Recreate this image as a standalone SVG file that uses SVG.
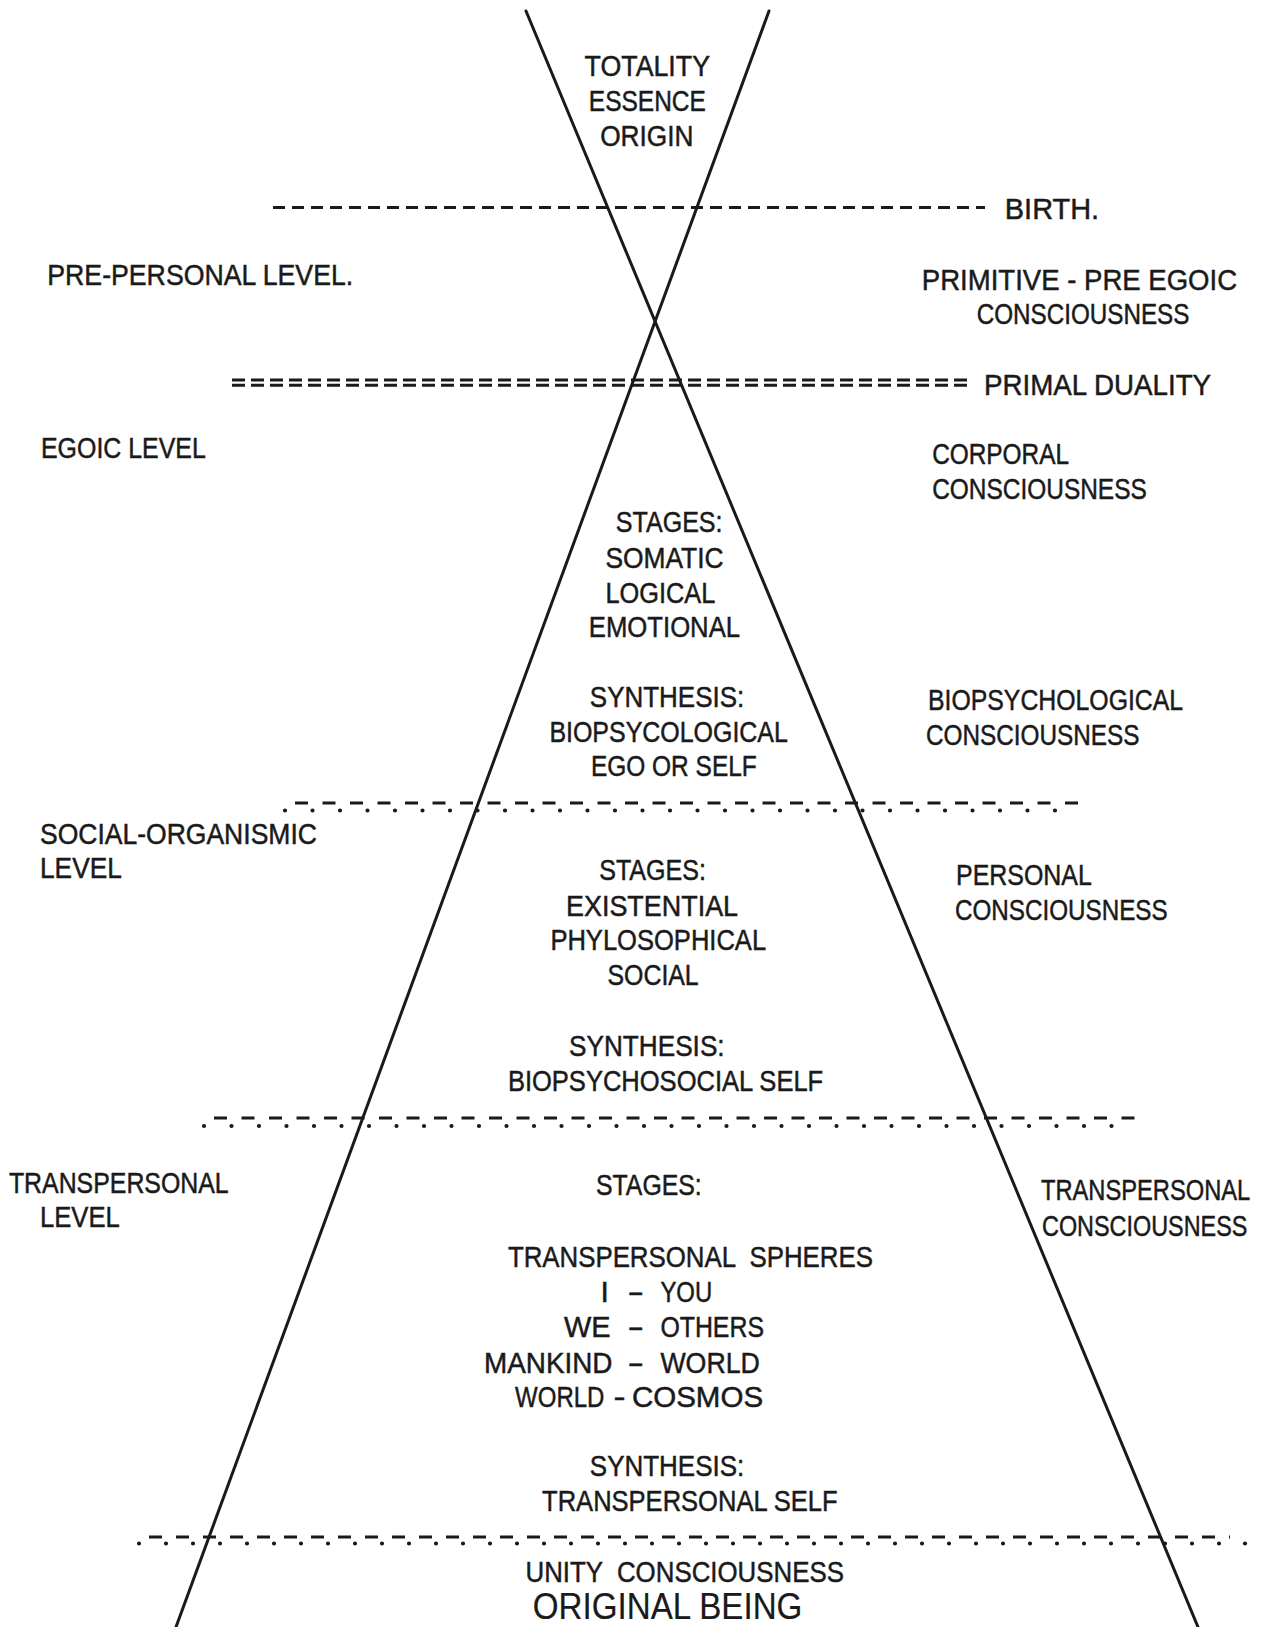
<svg xmlns="http://www.w3.org/2000/svg" width="1275" height="1627" viewBox="0 0 1275 1627">
<style>
text{font-family:"Liberation Sans",Arial,sans-serif;font-size:30px;fill:#1a1a1a;stroke:#1a1a1a;stroke-width:0.5px;}
.pre{white-space:pre;}
.big{font-size:36px;stroke-width:0.2px;}
.ax{stroke:#1a1a1a;stroke-width:3;fill:none;stroke-linecap:round;}
.dash{stroke:#1a1a1a;stroke-width:3;fill:none;}
.dot{stroke:#1a1a1a;stroke-width:4.2;fill:none;stroke-linecap:round;}
</style>
<rect width="1275" height="1627" fill="#ffffff"/>

<g id="connectors">
  <line class="ax" x1="526" y1="11" x2="1198" y2="1627"/>
  <line class="ax" x1="769" y1="11" x2="176" y2="1627"/>
  <!-- birth line -->
  <line class="dash" x1="273" y1="207.5" x2="985" y2="207.5" stroke-dasharray="12 7"/>
  <!-- primal duality (double dashes) -->
  <line class="dash" x1="232" y1="380" x2="967" y2="380" stroke-width="2.6" stroke-dasharray="13 6"/>
  <line class="dash" x1="232" y1="385.2" x2="967" y2="385.2" stroke-width="2.6" stroke-dasharray="13 6"/>
  <!-- dash-dot line 3 -->
  <line class="dot" x1="285" y1="810.5" x2="1080" y2="810.5" stroke-dasharray="0 27.5"/>
  <line class="dash" x1="295" y1="803" x2="1090" y2="803" stroke-dasharray="13 14.5"/>
  <!-- dash-dot line 4 -->
  <line class="dot" x1="204" y1="1126" x2="1135" y2="1126" stroke-dasharray="0 27.5"/>
  <line class="dash" x1="214" y1="1118" x2="1145" y2="1118" stroke-dasharray="13 14.5"/>
  <!-- dash-dot line 5 -->
  <line class="dot" x1="139" y1="1543.5" x2="1237" y2="1543.5" stroke-dasharray="0 27"/>
  <line class="dot" x1="1245" y1="1543.5" x2="1245" y2="1543.5"/>
  <line class="dash" x1="149" y1="1537" x2="1230" y2="1537" stroke-dasharray="13 14"/>
</g>

<g id="origin">
  <text x="584.6" y="75.5" textLength="125.4" lengthAdjust="spacingAndGlyphs">TOTALITY</text>
  <text x="588.8" y="110.7" textLength="117.1" lengthAdjust="spacingAndGlyphs">ESSENCE</text>
  <text x="600.2" y="146" textLength="93.3" lengthAdjust="spacingAndGlyphs">ORIGIN</text>
</g>

<g id="birth">
  <text x="1004.8" y="219" textLength="94.3" lengthAdjust="spacingAndGlyphs">BIRTH.</text>
</g>

<g id="prepersonal-level">
  <text x="47.3" y="285" textLength="305.9" lengthAdjust="spacingAndGlyphs">PRE-PERSONAL LEVEL.</text>
</g>

<g id="primitive-consciousness">
  <text x="921.8" y="290" textLength="315.3" lengthAdjust="spacingAndGlyphs">PRIMITIVE - PRE EGOIC</text>
  <text x="976.8" y="324" textLength="212.6" lengthAdjust="spacingAndGlyphs">CONSCIOUSNESS</text>
</g>

<g id="primal-duality">
  <text x="984" y="394.5" textLength="227.1" lengthAdjust="spacingAndGlyphs">PRIMAL DUALITY</text>
</g>

<g id="egoic-level">
  <text x="41" y="458" textLength="164.8" lengthAdjust="spacingAndGlyphs">EGOIC LEVEL</text>
</g>

<g id="corporal-consciousness">
  <text x="932.2" y="463.8" textLength="136.8" lengthAdjust="spacingAndGlyphs">CORPORAL</text>
  <text x="932.2" y="499" textLength="214.6" lengthAdjust="spacingAndGlyphs">CONSCIOUSNESS</text>
</g>

<g id="egoic-stages">
  <text x="615.8" y="532.3" textLength="106.7" lengthAdjust="spacingAndGlyphs">STAGES:</text>
  <text x="605.4" y="567.5" textLength="118.2" lengthAdjust="spacingAndGlyphs">SOMATIC</text>
  <text x="605.4" y="602.8" textLength="109.9" lengthAdjust="spacingAndGlyphs">LOGICAL</text>
  <text x="588.8" y="637" textLength="151.3" lengthAdjust="spacingAndGlyphs">EMOTIONAL</text>
</g>

<g id="egoic-synthesis">
  <text x="589.8" y="706.5" textLength="154.5" lengthAdjust="spacingAndGlyphs">SYNTHESIS:</text>
  <text x="549.4" y="741.8" textLength="238.5" lengthAdjust="spacingAndGlyphs">BIOPSYCOLOGICAL</text>
  <text x="590.9" y="776" textLength="165.9" lengthAdjust="spacingAndGlyphs">EGO OR SELF</text>
</g>

<g id="biopsychological-consciousness">
  <text x="928" y="709.7" textLength="255.1" lengthAdjust="spacingAndGlyphs">BIOPSYCHOLOGICAL</text>
  <text x="925.9" y="745" textLength="213.6" lengthAdjust="spacingAndGlyphs">CONSCIOUSNESS</text>
</g>

<g id="social-organismic-level">
  <text x="40" y="843.5" textLength="276.9" lengthAdjust="spacingAndGlyphs">SOCIAL-ORGANISMIC</text>
  <text x="40" y="877.7" textLength="81.8" lengthAdjust="spacingAndGlyphs">LEVEL</text>
</g>

<g id="social-stages">
  <text x="599.2" y="879.8" textLength="106.7" lengthAdjust="spacingAndGlyphs">STAGES:</text>
  <text x="566" y="916" textLength="172.1" lengthAdjust="spacingAndGlyphs">EXISTENTIAL</text>
  <text x="550.4" y="950.3" textLength="215.7" lengthAdjust="spacingAndGlyphs">PHYLOSOPHICAL</text>
  <text x="607.5" y="984.6" textLength="91.2" lengthAdjust="spacingAndGlyphs">SOCIAL</text>
</g>

<g id="personal-consciousness">
  <text x="956" y="885" textLength="135.8" lengthAdjust="spacingAndGlyphs">PERSONAL</text>
  <text x="955" y="920" textLength="212.6" lengthAdjust="spacingAndGlyphs">CONSCIOUSNESS</text>
</g>

<g id="social-synthesis">
  <text x="569.1" y="1056" textLength="155.5" lengthAdjust="spacingAndGlyphs">SYNTHESIS:</text>
  <text x="507.9" y="1091.4" textLength="315.3" lengthAdjust="spacingAndGlyphs">BIOPSYCHOSOCIAL SELF</text>
</g>

<g id="transpersonal-level">
  <text x="8.9" y="1193" textLength="219.8" lengthAdjust="spacingAndGlyphs">TRANSPERSONAL</text>
  <text x="40" y="1227.3" textLength="79.8" lengthAdjust="spacingAndGlyphs">LEVEL</text>
</g>

<g id="transpersonal-consciousness">
  <text transform="translate(1041 1200.3) scale(0.79 1)" x="0" y="0">TRANSPERSONAL</text>
  <text transform="translate(1042 1235.6) scale(0.78 1)" x="0" y="0">CONSCIOUSNESS</text>
</g>

<g id="transpersonal-stages">
  <text x="596" y="1195" textLength="105.7" lengthAdjust="spacingAndGlyphs">STAGES:</text>
  <text class="pre" x="507.9" y="1266.7" textLength="365" lengthAdjust="spacingAndGlyphs">TRANSPERSONAL  SPHERES</text>
  <text y="1302"><tspan x="600.5">I</tspan> <tspan x="627.5" textLength="16.5" lengthAdjust="spacingAndGlyphs">-</tspan> <tspan x="660.4" textLength="51.8" lengthAdjust="spacingAndGlyphs">YOU</tspan></text>
  <text y="1337.3"><tspan x="563.9" textLength="46.6" lengthAdjust="spacingAndGlyphs">WE</tspan> <tspan x="627.5" textLength="16.5" lengthAdjust="spacingAndGlyphs">-</tspan> <tspan x="660.4" textLength="103.6" lengthAdjust="spacingAndGlyphs">OTHERS</tspan></text>
  <text y="1372.6"><tspan x="484" textLength="128.5" lengthAdjust="spacingAndGlyphs">MANKIND</tspan> <tspan x="627.5" textLength="16.5" lengthAdjust="spacingAndGlyphs">-</tspan> <tspan x="660.4" textLength="99.5" lengthAdjust="spacingAndGlyphs">WORLD</tspan></text>
  <text transform="translate(515.1 1406.8) scale(0.8 1)" y="0"><tspan x="0">WORLD</tspan> <tspan x="123" textLength="15" lengthAdjust="spacingAndGlyphs">-</tspan> <tspan x="146" textLength="164" lengthAdjust="spacingAndGlyphs">COSMOS</tspan></text>
</g>

<g id="transpersonal-synthesis">
  <text x="589.8" y="1476.3" textLength="154.5" lengthAdjust="spacingAndGlyphs">SYNTHESIS:</text>
  <text x="542.1" y="1510.5" textLength="295.5" lengthAdjust="spacingAndGlyphs">TRANSPERSONAL SELF</text>
</g>

<g id="unity">
  <text class="pre" x="525.5" y="1582" textLength="318.4" lengthAdjust="spacingAndGlyphs">UNITY  CONSCIOUSNESS</text>
  <text class="big" x="532.8" y="1619" textLength="269.6" lengthAdjust="spacingAndGlyphs">ORIGINAL BEING</text>
</g>
</svg>
